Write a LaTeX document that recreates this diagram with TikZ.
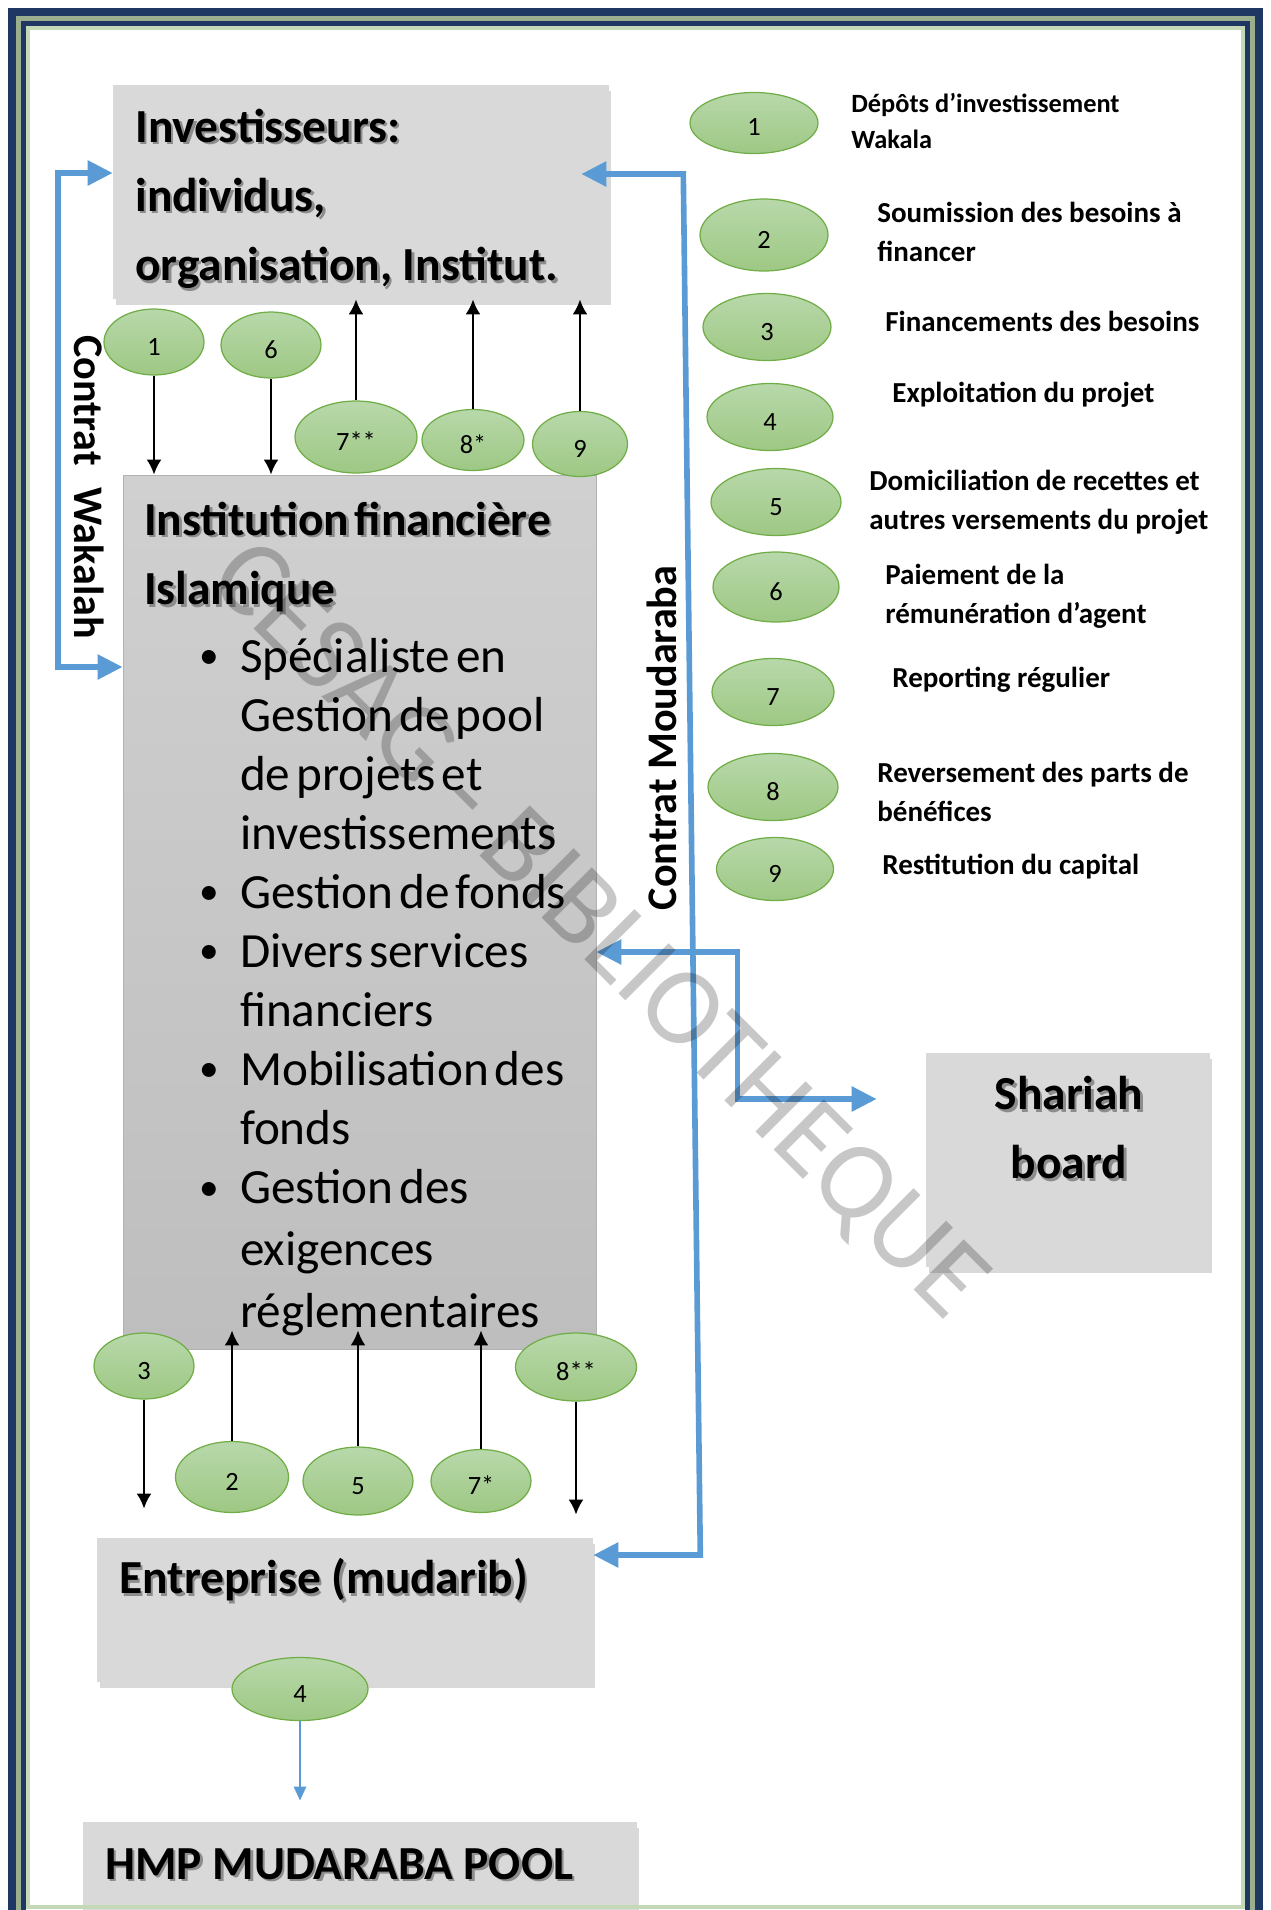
\documentclass[tikz,border=0pt]{standalone}
\usepackage{fontspec}
\setmainfont{Carlito}
\newfontfamily\spacedfont{Carlito}[WordSpace=1.3]
\usepackage{xcolor}
\usepackage{tikz}
\usetikzlibrary{arrows.meta,positioning,calc,shapes.geometric,shadows}
\definecolor{framenavy}{RGB}{31, 55, 99}
\definecolor{framesage}{RGB}{155, 174, 142}
\definecolor{framelight}{RGB}{197, 217, 184}
\definecolor{boxgray}{RGB}{217, 217, 217}
\definecolor{ifigraytop}{RGB}{208, 208, 208}
\definecolor{ifigraybot}{RGB}{190, 190, 190}
\definecolor{ovaltop}{RGB}{184, 216, 170}
\definecolor{ovalbot}{RGB}{158, 200, 132}
\definecolor{ovalline}{RGB}{112, 173, 71}
\definecolor{flowblue}{RGB}{91, 155, 213}

\newcommand{\boxtitlefont}{\fontsize{27}{39.5}\selectfont\bfseries}
\newcommand{\bulletfont}{\spacedfont\fontsize{28}{33.6}\selectfont}
\newcommand{\legendtxtfont}{\fontsize{16.5}{22.2}\selectfont\bfseries}
\newcommand{\ovalfont}{\fontsize{15}{18}\selectfont}
\newcommand{\contractfont}{\fontsize{24}{28}\selectfont\bfseries}
\newcommand{\shadowtxt}[1]{\makebox[0pt][l]{\hspace{1.4pt}\raisebox{-1.4pt}{\textcolor{black!45}{#1}}}#1}
\newcommand{\bulletmark}{\leavevmode\hspace*{11mm}\makebox[8.2mm][l]{\raisebox{0.07em}{\scalebox{0.8}{\textbullet}}}}

\begin{document}
\begin{tikzpicture}[x=0.02cm, y=-0.02cm,
  graybox/.style={rectangle, fill=boxgray, inner sep=0pt, drop shadow={shadow xshift=0.5mm, shadow yshift=-1.2mm, opacity=0.3}},
  ifibox/.style={rectangle, draw=black!30, line width=0.5pt, top color=ifigraytop, bottom color=ifigraybot, minimum width=94.6mm, minimum height=175mm, text width=86.2mm, inner xsep=4.2mm, inner ysep=0pt, align=left},
  boxtitle/.style={inner sep=0pt, font=\boxtitlefont, align=left},
  flowoval/.style={ellipse, draw=ovalline, line width=0.7pt, top color=ovaltop, bottom color=ovalbot, minimum width=20mm, minimum height=13.2mm, inner sep=0pt, text height=5.2mm, text depth=0pt, font=\ovalfont},
  keyoval/.style={flowoval, minimum width=25.6mm, minimum height=13.4mm},
  keytext/.style={inner sep=0pt, font=\legendtxtfont, align=left, anchor=west},
  contract/.style={inner sep=0pt, font=\contractfont},
  flowarrow/.style={-{Latex[length=3mm,width=3mm]}, line width=1.5pt, black},
  bluearrow/.style={{Triangle[length=5mm,width=4.8mm]}-{Triangle[length=5mm,width=4.8mm]}, line width=3.2pt, flowblue},
  thinblue/.style={-{Triangle[length=2.8mm,width=2.4mm]}, line width=1.5pt, flowblue},
  watermark/.style={inner sep=0pt, font=\fontsize{63}{70}\selectfont, text=black, opacity=0.22}
]
\useasboundingbox (0,0) rectangle (1271,1910);

% Boxes: investors, bank, enterprise, shariah board, pool
\node[graybox, minimum width=99.2mm, minimum height=42.8mm] (inv) at (361,192) {};
\node[boxtitle, anchor=west] (invname) at (135,200) {\shadowtxt{Investisseurs:}\\ \shadowtxt{individus,}\\ \shadowtxt{organisation, Institut.}};

\node[ifibox] (ifi) at (359.5,912.5) {%
{\boxtitlefont \rule{0pt}{26.5pt}\shadowtxt{Institution financière}\\ \shadowtxt{Islamique}\par}
\vspace{4.7pt}
\bulletfont
\bulletmark Spécialiste en\\
\hspace*{19.2mm}Gestion de pool\\
\hspace*{19.2mm}de projets et\\
\hspace*{19.2mm}investissements\\
\bulletmark Gestion de fonds\\
\bulletmark Divers services\\
\hspace*{19.2mm}financiers\\
\bulletmark Mobilisation des\\
\hspace*{19.2mm}fonds\\
\bulletmark Gestion des\\[2pt]
\hspace*{19.2mm}exigences\\[1.5pt]
\hspace*{19.2mm}réglementaires\par
};

\node[graybox, minimum width=99.2mm, minimum height=28.8mm] (ent) at (345,1610) {};
\node[boxtitle, anchor=west] (entname) at (119,1581) {\shadowtxt{Entreprise (mudarib)}};

\node[graybox, minimum width=56.8mm, minimum height=42.8mm] (sha) at (1068,1160) {};
\node[boxtitle, align=center] (shaname) at (1069,1129) {\shadowtxt{Shariah}\\ \shadowtxt{board}};

\node[graybox, minimum width=110.8mm, minimum height=27.6mm] (hmp) at (360,1891) {};
\node[boxtitle, anchor=west] (hmpname) at (105,1865) {\shadowtxt{HMP MUDARABA POOL}};

% Flow ovals above the bank
\node[flowoval] (n1) at (154,342) {1};
\node[flowoval] (n6) at (271,345) {6};
\node[flowoval, minimum width=24.4mm, minimum height=14.4mm] (n7ss) at (356,437) {7**};
\node[flowoval, minimum width=20.4mm, minimum height=12.2mm] (n8s) at (473,440) {8*};
\node[flowoval, minimum width=19mm, minimum height=13mm] (n9) at (580,444) {9};

% Flow ovals below the bank
\node[flowoval] (n3) at (144,1366) {3};
\node[flowoval, minimum width=24.2mm, minimum height=13.6mm] (n8ss) at (576,1367) {8**};
\node[flowoval, minimum width=22.6mm, minimum height=14.2mm] (n2) at (232,1477) {2};
\node[flowoval, minimum width=22mm, minimum height=13.6mm] (n5) at (358,1481) {5};
\node[flowoval, minimum height=12.6mm] (n7s) at (481,1481) {7*};
\node[flowoval, minimum width=27.2mm, minimum height=12.6mm] (n4) at (300,1689) {4};

% Key
\node[keyoval, minimum height=12.2mm] (k1) at (754,123) {1};
\node[keytext, font=\fontsize{15}{20}\selectfont\bfseries] (d1) at (851,121) {Dépôts d’investissement\\Wakala};
\node[keyoval, minimum height=14.4mm] (k2) at (764,235) {2};
\node[keytext] (d2) at (877,232) {Soumission des besoins à\\financer};
\node[keyoval] (k3) at (767,327) {3};
\node[keytext] (d3) at (885,321) {Financements des besoins};
\node[keyoval, minimum width=25.2mm] (k4) at (770,417) {4};
\node[keytext] (d4) at (892,395) {Exploitation du projet};
\node[keyoval, minimum width=26mm] (k5) at (776,502) {5};
\node[keytext] (d5) at (869,502) {Domiciliation de recettes et\\autres versements du projet};
\node[keyoval, minimum width=25.2mm, minimum height=14mm] (k6) at (776,587) {6};
\node[keytext] (d6) at (885,596) {Paiement de la\\rémunération d’agent};
\node[keyoval, minimum width=24.4mm] (k7) at (773,692) {7};
\node[keytext] (d7) at (892,680) {Reporting régulier};
\node[keyoval, minimum width=26mm] (k8) at (773,787) {8};
\node[keytext] (d8) at (877,792) {Reversement des parts de\\bénéfices};
\node[keyoval, minimum width=23.4mm, minimum height=12.6mm] (k9) at (775,869) {9};
\node[keytext] (d9) at (882,867) {Restitution du capital};

% Contract labels
\node[contract, rotate=-90] (wakalah) at (89,487) {Contrat\hspace{0.5em}Wakalah};
\node[contract, rotate=90] (moudaraba) at (662,738) {Contrat Moudaraba};

% Connectors
\draw[flowarrow] (n1.south) -- (n1.south |- ifi.north);
\draw[flowarrow] (n6.south) -- (n6.south |- ifi.north);
\draw[flowarrow] (n7ss.north) -- (n7ss.north |- inv.south);
\draw[flowarrow] (n8s.north) -- (n8s.north |- inv.south);
\draw[flowarrow] (n9.north) -- (n9.north |- inv.south);
\draw[flowarrow, shorten >=5.8mm] (n3.south) -- (n3.south |- ent.north);
\draw[flowarrow, shorten >=-4mm] (n2.north) -- (n2.north |- ifi.south);
\draw[flowarrow, shorten >=-4mm] (n5.north) -- (n5.north |- ifi.south);
\draw[flowarrow, shorten >=-4mm] (n7s.north) -- (n7s.north |- ifi.south);
\draw[flowarrow, shorten >=4.6mm] (n8ss.south) -- (n8ss.south |- ent.north);

\draw[bluearrow] ($(inv.west)+(0,-19)$) -- ++(-55,0) |- ($(ifi.west)+(0,-245.5)$);
\draw[bluearrow] ($(inv.east)+(-28,-18)$) -- ++(102,0) -- ++(17,1381) -- ($(ent.east)+(0,-55)$);
\draw[bluearrow, shorten >=9.8mm] ($(ifi.east)+(0,39.5)$) -- ++(141,0) |- ($(sha.west)+(0,-61)$);
\draw[thinblue, shorten >=4.2mm] (n4.south) -- (n4.south |- hmp.north);

% Page frame
\draw[framenavy, line width=1.6mm] (12,12) rectangle (1259,1940);
\draw[framesage, line width=1mm] (18.5,18.5) rectangle (1252.5,1940);
\draw[framenavy, line width=1mm] (23.5,23.5) rectangle (1247.5,1940);
\draw[framelight, line width=0.8mm] (28,28) rectangle (1243,1907);

% Watermark
\node[watermark, rotate=-45] (wm) at (597,932) {CESAG - BIBLIOTHEQUE};

\end{tikzpicture}
\end{document}
